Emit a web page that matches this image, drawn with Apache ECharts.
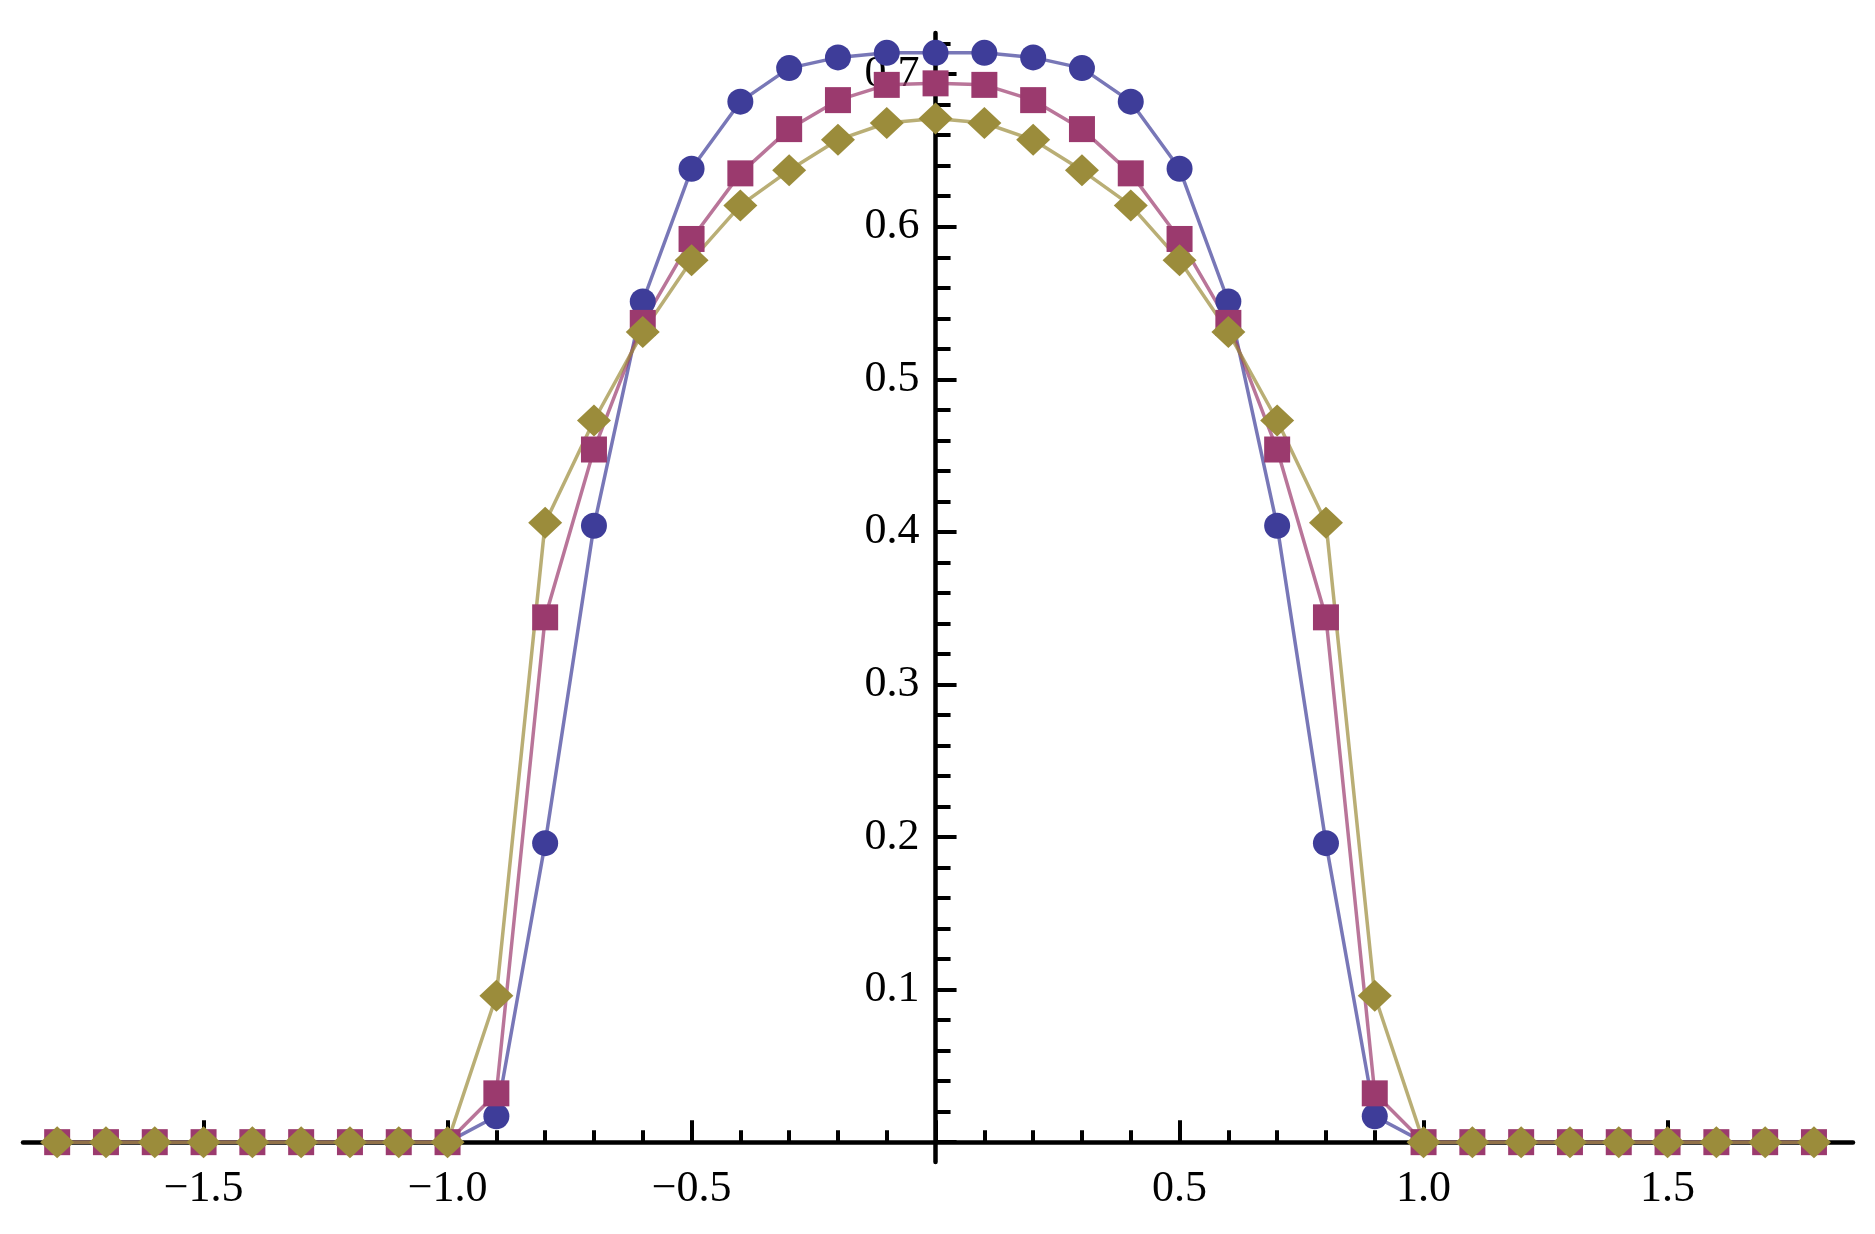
<!DOCTYPE html>
<html>
<head>
<meta charset="utf-8">
<script src="https://cdn.jsdelivr.net/npm/echarts@6/dist/echarts.min.js"></script>
<style>
  html, body { margin: 0; padding: 0; background: #fff; }
  #chart { width: 1875px; height: 1234px; }
</style>
</head>
<body>
<div id="chart"></div>
<script>
// sample points, x from -1.8 to 1.8
const xValues = [-1.8, -1.7, -1.6, -1.5, -1.4, -1.3, -1.2, -1.1, -1.0,
  -0.9, -0.8, -0.7, -0.6, -0.5, -0.4, -0.3, -0.2, -0.1, 0,
  0.1, 0.2, 0.3, 0.4, 0.5, 0.6, 0.7, 0.8, 0.9,
  1.0, 1.1, 1.2, 1.3, 1.4, 1.5, 1.6, 1.7, 1.8];

const blueValues = [0, 0, 0, 0, 0, 0, 0, 0, 0,
  0.017, 0.196, 0.404, 0.551, 0.638, 0.682, 0.704, 0.711, 0.714, 0.714,
  0.714, 0.711, 0.704, 0.682, 0.638, 0.551, 0.404, 0.196, 0.017,
  0, 0, 0, 0, 0, 0, 0, 0, 0];

const purpleValues = [0, 0, 0, 0, 0, 0, 0, 0, 0,
  0.032, 0.344, 0.454, 0.537, 0.592, 0.635, 0.664, 0.683, 0.693, 0.694,
  0.693, 0.683, 0.664, 0.635, 0.592, 0.537, 0.454, 0.344, 0.032,
  0, 0, 0, 0, 0, 0, 0, 0, 0];

const oliveValues = [0, 0, 0, 0, 0, 0, 0, 0, 0,
  0.096, 0.406, 0.473, 0.531, 0.578, 0.614, 0.637, 0.657, 0.668, 0.671,
  0.668, 0.657, 0.637, 0.614, 0.578, 0.531, 0.473, 0.406, 0.096,
  0, 0, 0, 0, 0, 0, 0, 0, 0];

// plot frame (pixels) and the value range it shows
const X_MIN = -1.87, X_MAX = 1.88, Y_MIN = -0.013, Y_MAX = 0.727;
const LEFT = 23, RIGHT = 1853, TOP = 33, BOTTOM = 1162;
const W = 1875, H = 1234;

const sx = (RIGHT - LEFT) / (X_MAX - X_MIN);
const sy = (BOTTOM - TOP) / (Y_MAX - Y_MIN);
const px = (x) => LEFT + (x - X_MIN) * sx;
const py = (y) => BOTTOM - (y - Y_MIN) * sy;

// a grid whose box maps exactly onto the main plot's scale
function gridFor(x0, x1, y0, y1) {
  return {
    left: px(x0),
    right: W - px(x1),
    top: py(y1),
    bottom: H - py(y0),
    containLabel: false,
  };
}

const FONT = "'Liberation Serif', 'DejaVu Serif', serif";
const fmt = (v) => {
  const s = Math.abs(v).toFixed(1);
  return v < 0 ? "\u2212" + s : s;
};

const chart = echarts.init(document.getElementById("chart"));

const hidden = { show: false };

const option = {
  backgroundColor: "#fff",
  animation: false,
  grid: [
    gridFor(X_MIN, X_MAX, Y_MIN, Y_MAX), // data + axis lines
    gridFor(-1.8, 1.8, 0, Y_MAX),        // x minor ticks
    gridFor(-1.5, 1.5, 0, Y_MAX),        // x major ticks + labels
    gridFor(0, X_MAX, 0, 0.72),          // y minor ticks
    gridFor(0, X_MAX, 0, 0.7),           // y major ticks + labels
  ],
  xAxis: [
    {
      gridIndex: 0, type: "value", min: X_MIN, max: X_MAX,
      axisLine: { onZero: true, lineStyle: { color: "#000", width: 4.5 } },
      axisTick: hidden, axisLabel: hidden, splitLine: hidden,
    },
    {
      gridIndex: 1, type: "value", min: -1.8, max: 1.8, interval: 0.1,
      axisLine: hidden, axisLabel: hidden, splitLine: hidden,
      axisTick: { inside: true, length: 12, lineStyle: { color: "#000", width: 4 } },
    },
    {
      gridIndex: 2, type: "value", min: -1.5, max: 1.5, interval: 0.5,
      axisLine: hidden, splitLine: hidden,
      axisTick: { inside: true, length: 22, lineStyle: { color: "#000", width: 4 } },
      axisLabel: {
        margin: 25, color: "#000", fontFamily: FONT, fontSize: 44,
        formatter: (v) => (Math.abs(v) < 1e-9 ? "" : fmt(v)),
      },
    },
    { gridIndex: 3, type: "value", min: 0, max: X_MAX, show: false },
    { gridIndex: 4, type: "value", min: 0, max: X_MAX, show: false },
  ],
  yAxis: [
    {
      gridIndex: 0, type: "value", min: Y_MIN, max: Y_MAX,
      axisLine: { onZero: true, lineStyle: { color: "#000", width: 4.5 } },
      axisTick: hidden, axisLabel: hidden, splitLine: hidden,
    },
    { gridIndex: 1, type: "value", min: 0, max: Y_MAX, show: false },
    { gridIndex: 2, type: "value", min: 0, max: Y_MAX, show: false },
    {
      gridIndex: 3, type: "value", min: 0, max: 0.72, interval: 0.02,
      axisLine: hidden, axisLabel: hidden, splitLine: hidden,
      axisTick: { inside: true, length: 15, lineStyle: { color: "#000", width: 4 } },
    },
    {
      gridIndex: 4, type: "value", min: 0, max: 0.7, interval: 0.1,
      axisLine: hidden, splitLine: hidden,
      axisTick: { inside: true, length: 21, lineStyle: { color: "#000", width: 4 } },
      axisLabel: {
        margin: 16, color: "#000", fontFamily: FONT, fontSize: 44,
        formatter: (v) => (Math.abs(v) < 1e-9 ? "" : v.toFixed(1)),
      },
    },
  ],
  series: [
    {
      name: "blue", type: "line", xAxisIndex: 0, yAxisIndex: 0,
      data: xValues.map((x, i) => [x, blueValues[i]]),
      symbol: "circle", symbolSize: 26, clip: false,
      itemStyle: { color: "#3e3d99" },
      lineStyle: { color: "#3e3d99", width: 3.5, opacity: 0.7 },
    },
    {
      name: "purple", type: "line", xAxisIndex: 0, yAxisIndex: 0,
      data: xValues.map((x, i) => [x, purpleValues[i]]),
      symbol: "rect", symbolSize: 26, clip: false,
      itemStyle: { color: "#9b3a6e" },
      lineStyle: { color: "#9b3a6e", width: 3.5, opacity: 0.7 },
    },
    {
      name: "olive", type: "line", xAxisIndex: 0, yAxisIndex: 0,
      data: xValues.map((x, i) => [x, oliveValues[i]]),
      symbol: "diamond", symbolSize: [34, 32], clip: false,
      itemStyle: { color: "#9b8c3b" },
      lineStyle: { color: "#9b8c3b", width: 3.5, opacity: 0.7 },
    },
  ],
};

chart.setOption(option);
</script>
</body>
</html>
